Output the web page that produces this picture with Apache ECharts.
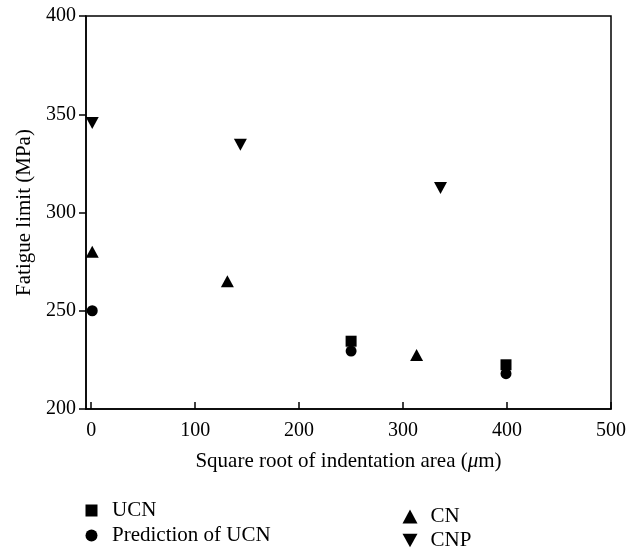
<!DOCTYPE html>
<html>
<head>
<meta charset="utf-8">
<script src="https://cdn.jsdelivr.net/npm/echarts@6/dist/echarts.min.js"></script>
<style>
html,body{margin:0;padding:0;background:#fff;}
#chart{width:629px;height:551px;}
</style>
</head>
<body>
<div id="chart"></div>
<script>
// data: [sqrt area (um), fatigue limit (MPa)]
var ucn = [[250, 234.5], [399, 222.5]];
var predUcn = [[1, 250], [250, 229.5], [399, 218]];
var cn = [[1, 280], [131, 265], [313, 227.5]];
var cnp = [[1, 345.5], [143.5, 334.5], [336, 312.5]];
var xTicks = [0, 100, 200, 300, 400, 500];

var FONT = 'Liberation Serif';
var downTri = 'path://M0,0 L10,0 L5,9 Z';

var myChart = echarts.init(document.getElementById('chart'));
var option = {
    animation: false,
    textStyle: {fontFamily: FONT, color: '#000'},
    grid: {left: 86, right: 16, top: 16, bottom: 142, show: true, borderColor: '#000', borderWidth: 1.5},
    legend: [
        {left: 80.5, top: 495, height: 56, orient: 'vertical', itemGap: 4, itemWidth: 12, itemHeight: 12,
            textStyle: {fontFamily: FONT, fontSize: 21, color: '#000', padding: [0, 0, 0, 9.5]},
            data: ['UCN', 'Prediction of UCN']},
        {left: 397.5, top: 501, height: 50, orient: 'vertical', itemGap: 3, itemWidth: 15, itemHeight: 14,
            textStyle: {fontFamily: FONT, fontSize: 21, color: '#000', padding: [0, 0, 0, 8]},
            data: ['CN', 'CNP']}
    ],
    xAxis: {
        type: 'value', min: -5, max: 500,
        splitLine: {show: false},
        axisLine: {onZero: false, lineStyle: {color: '#000', width: 1.5}},
        axisTick: {inside: true, length: 7, lineStyle: {color: '#000', width: 1.5}, customValues: xTicks},
        axisLabel: {fontFamily: FONT, fontSize: 20, color: '#000', margin: 12, customValues: xTicks},
        name: 'Square root of indentation area ({it|μ}m)',
        nameLocation: 'middle', nameGap: 42,
        nameTextStyle: {fontFamily: FONT, fontSize: 21, color: '#000',
            rich: {it: {fontFamily: FONT, fontSize: 21, fontStyle: 'italic', color: '#000'}}}
    },
    yAxis: {
        type: 'value', min: 200, max: 400, interval: 50,
        splitLine: {show: false},
        axisLine: {onZero: false, lineStyle: {color: '#000', width: 1.5}},
        axisTick: {length: 7, lineStyle: {color: '#000', width: 1.5}},
        axisLabel: {fontFamily: FONT, fontSize: 20, color: '#000', margin: 10},
        name: 'Fatigue limit (MPa)',
        nameLocation: 'middle', nameGap: 50,
        nameTextStyle: {fontFamily: FONT, fontSize: 21, color: '#000'}
    },
    series: [
        {name: 'UCN', type: 'scatter', symbol: 'rect', symbolSize: 11, data: ucn, itemStyle: {color: '#000', opacity: 1}},
        {name: 'Prediction of UCN', type: 'scatter', symbol: 'circle', symbolSize: 11, data: predUcn, itemStyle: {color: '#000', opacity: 1}},
        {name: 'CN', type: 'scatter', symbol: 'triangle', symbolSize: [13, 12], data: cn, itemStyle: {color: '#000', opacity: 1}},
        {name: 'CNP', type: 'scatter', symbol: downTri, symbolSize: [13, 12], data: cnp, itemStyle: {color: '#000', opacity: 1}}
    ]
};
myChart.setOption(option);
</script>
</body>
</html>
